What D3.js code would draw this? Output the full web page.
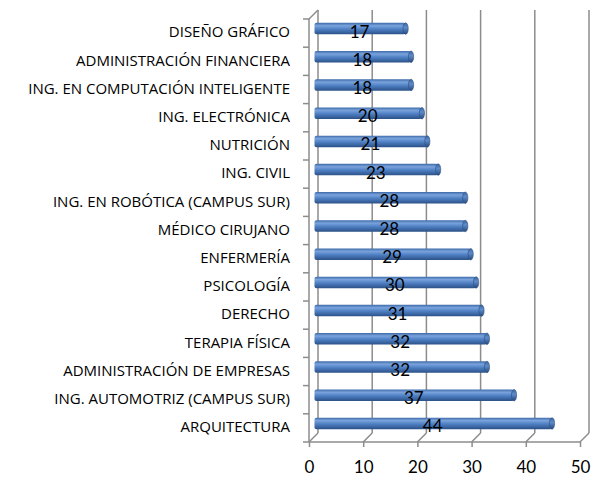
<!DOCTYPE html>
<html lang="es">
<head>
<meta charset="UTF-8">
<title>Carreras</title>
<script src="https://d3js.org/d3.v7.min.js"></script>
<style>
  body { margin: 0; background: #fff; }
  svg { display: block; font-family: Lato, 'Open Sans', sans-serif; }
  .cat { font-size: 15px; fill: #000; font-family: 'Open Sans', sans-serif; }
  .val { font-size: 17px; fill: #000; }
  .xaxis text { font-size: 17px; fill: #000; font-family: Lato, sans-serif; }
  .xaxis line { stroke: #8c8c8c; stroke-width: 1.5; }
</style>
</head>
<body>
<svg id="chart" width="597" height="482"></svg>
<script>
// datos (de arriba hacia abajo)
const categories = [
  "DISEÑO GRÁFICO", "ADMINISTRACIÓN FINANCIERA", "ING. EN COMPUTACIÓN INTELIGENTE",
  "ING. ELECTRÓNICA", "NUTRICIÓN", "ING. CIVIL", "ING. EN ROBÓTICA (CAMPUS SUR)",
  "MÉDICO CIRUJANO", "ENFERMERÍA", "PSICOLOGÍA", "DERECHO", "TERAPIA FÍSICA",
  "ADMINISTRACIÓN DE EMPRESAS", "ING. AUTOMOTRIZ (CAMPUS SUR)", "ARQUITECTURA"
];
const values = [17, 18, 18, 20, 21, 23, 28, 28, 29, 30, 31, 32, 32, 37, 44];
const xTicks = [0, 10, 20, 30, 40, 50];

const svg = d3.select("#chart");
const depth = 9;          // profundidad 3D (dx = +depth, dy = -depth)
const gridColor = "#8c8c8c";

const x = d3.scaleLinear().domain([0, 50]).range([309, 580]);
const y = d3.scaleBand().domain(categories).range([19, 442]);
const floorY = y.range()[1];
const topY = y.range()[0];

// gradiente de las barras
const defs = svg.append("defs");
const grad = defs.append("linearGradient").attr("id", "barGrad")
  .attr("x1", 0).attr("y1", 0).attr("x2", 0).attr("y2", 1);
grad.append("stop").attr("offset", "0%").attr("stop-color", "#3d6aa8");
grad.append("stop").attr("offset", "25%").attr("stop-color", "#7aa3dc");
grad.append("stop").attr("offset", "55%").attr("stop-color", "#4f80c4");
grad.append("stop").attr("offset", "100%").attr("stop-color", "#2b5187");
const capGrad = defs.append("linearGradient").attr("id", "capGrad")
  .attr("x1", 0).attr("y1", 0).attr("x2", 0).attr("y2", 1);
capGrad.append("stop").attr("offset", "0%").attr("stop-color", "#3a649d");
capGrad.append("stop").attr("offset", "40%").attr("stop-color", "#5f8cc9");
capGrad.append("stop").attr("offset", "100%").attr("stop-color", "#274a7c");

const grid = svg.append("g").attr("fill", "none").attr("stroke", gridColor).attr("stroke-width", 1.5);

// paredes: líneas de fondo
grid.selectAll(".back").data(xTicks).join("line")
  .attr("x1", d => x(d) + depth).attr("x2", d => x(d) + depth)
  .attr("y1", topY - depth).attr("y2", floorY - depth);
// piso: diagonales
grid.selectAll(".floorDiag").data(xTicks).join("line")
  .attr("x1", d => x(d)).attr("x2", d => x(d) + depth)
  .attr("y1", floorY).attr("y2", floorY - depth);
// borde frontal del piso
grid.append("line")
  .attr("x1", x(0)).attr("x2", x(50)).attr("y1", floorY).attr("y2", floorY);
// pared izquierda: borde frontal y superior
grid.append("line")
  .attr("x1", x(0)).attr("x2", x(0)).attr("y1", topY).attr("y2", floorY);
grid.append("line")
  .attr("x1", x(0)).attr("x2", x(0) + depth).attr("y1", topY).attr("y2", topY - depth);
// marcas de la pared izquierda
const bounds = categories.map(c => y(c)).concat([floorY]);
grid.selectAll(".ltick").data(bounds).join("line")
  .attr("x1", x(0) - 6).attr("x2", x(0)).attr("y1", d => d).attr("y2", d => d);

// eje x
svg.append("g").attr("class", "xaxis")
  .attr("transform", `translate(0,${floorY})`)
  .call(d3.axisBottom(x).tickValues(xTicks).tickSize(5).tickPadding(14))
  .call(g => g.select(".domain").remove());

// barras a media profundidad
const half = depth / 2;
const barH = 11.5;
const bars = svg.append("g");
const rows = categories.map((c, i) => ({ cat: c, v: values[i] }));
const cy = d => y(d.cat) + y.bandwidth() / 2 - half;

bars.selectAll("rect").data(rows).join("rect")
  .attr("x", x(0) + half + 1)
  .attr("y", d => cy(d) - barH / 2)
  .attr("width", d => x(d.v) - x(0) - 1)
  .attr("height", barH)
  .attr("rx", 2)
  .attr("fill", "url(#barGrad)");
bars.selectAll("ellipse").data(rows).join("ellipse")
  .attr("cx", d => x(d.v) + half)
  .attr("cy", d => cy(d))
  .attr("rx", 2.6)
  .attr("ry", barH / 2)
  .attr("fill", "url(#capGrad)")
  .attr("stroke", "#2a4f84")
  .attr("stroke-width", 0.6);

// etiquetas de valores
svg.append("g").selectAll("text").data(rows).join("text")
  .attr("class", "val")
  .attr("x", d => (x(0) + x(d.v)) / 2 + half)
  .attr("y", d => cy(d) + 9)
  .attr("text-anchor", "middle")
  .text(d => d.v);

// etiquetas de categorías
svg.append("g").selectAll("text").data(categories).join("text")
  .attr("class", "cat")
  .attr("x", 290)
  .attr("y", d => y(d) + y.bandwidth() / 2 - 1)
  .attr("dy", "0.35em")
  .attr("text-anchor", "end")
  .text(d => d);
</script>
</body>
</html>
